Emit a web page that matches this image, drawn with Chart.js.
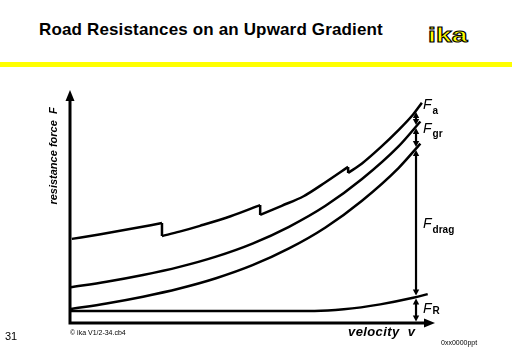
<!DOCTYPE html>
<html>
<head>
<meta charset="utf-8">
<script src="https://cdn.jsdelivr.net/npm/chart.js@4"></script>
<style>
  body { margin: 0; width: 512px; height: 354px; position: relative; overflow: hidden; background: #fff; font-family: 'Liberation Sans', Arial, sans-serif; }
  #chart { position: absolute; left: 0; top: 0; }
  .txt { position: absolute; white-space: nowrap; color: #000; line-height: 1; }
  #title { left: 39px; top: 21px; font-weight: bold; font-size: 17px; letter-spacing: 0.15px; }
  #logo { left: 428px; top: 24px; font-weight: bold; font-size: 21px; color: #ffff00; -webkit-text-stroke: 1px #000; transform: scaleX(1.35); transform-origin: left top; }
  #rule { position: absolute; left: 0; top: 62px; width: 512px; height: 5px; background: #ffff00; }
  #page { left: 5px; top: 331px; font-size: 11px; }
  #copy { left: 70px; top: 329px; font-size: 7px; }
  #file { left: 441px; top: 339px; font-size: 7px; }
</style>
</head>
<body>
<div id="title" class="txt">Road Resistances on an Upward Gradient</div>
<div id="logo" class="txt">ika</div>
<div id="rule"></div>
<canvas id="chart" width="512" height="354"></canvas>
<div id="page" class="txt">31</div>
<div id="copy" class="txt">© ika V1/2-34.cb4</div>
<div id="file" class="txt">0xx0000ppt</div>
<script>
/* Data (arbitrary units) */
const velocity = [0, 10, 20, 30, 40, 50, 60, 70, 80, 90, 96];
const dragPlusRolling = [6.0, 8.4, 11.3, 14.8, 19.2, 24.8, 32.0, 41.0, 52.5, 66.5, 77.0];
const withGradient = [15.3, 17.7, 20.6, 24.1, 28.5, 34.1, 41.3, 50.3, 61.8, 75.8, 86.5];
const rollingVelocity = [0, 20, 40, 60, 67, 75, 85, 94, 98];
const rollingForce = [5.2, 5.2, 5.2, 5.2, 5.2, 5.9, 8.0, 10.8, 12.4];
const gearVelocity = [
    [0.5, 8, 16, 25.2],
    [25.2, 30, 35.6, 44, 52.1],
    [52.1, 58, 64, 70, 76.2],
    [76.2, 80, 85, 90, 94, 96.4]
];
const gearForce = [
    [36.1, 38.0, 40.2, 42.9],
    [37.3, 39.2, 41.7, 45.8, 50.6],
    [46.4, 50.3, 54.4, 60.4, 67.0],
    [64.4, 68.5, 75.3, 82.8, 89.5, 94.5]
];

const toPoints = (xs, ys) => xs.map((v, i) => ({x: v, y: ys[i]}));

function interp(xs, ys, v) {
    for (let i = 1; i < xs.length; i++) {
        if (v <= xs[i]) {
            const t = (v - xs[i - 1]) / (xs[i] - xs[i - 1]);
            return ys[i - 1] + t * (ys[i] - ys[i - 1]);
        }
    }
    return ys[ys.length - 1];
}

const lineStyle = {
    borderColor: '#000',
    borderWidth: 2.5,
    pointRadius: 0,
    fill: false,
    cubicInterpolationMode: 'monotone'
};

const datasets = [
    {...lineStyle, label: 'rolling', data: toPoints(rollingVelocity, rollingForce)},
    {...lineStyle, label: 'drag', data: toPoints(velocity, dragPlusRolling)},
    {...lineStyle, label: 'gradient', data: toPoints(velocity, withGradient)}
];
gearVelocity.forEach((xs, g) => {
    datasets.push({...lineStyle, label: 'gear ' + (g + 1), data: toPoints(xs, gearForce[g])});
    if (g > 0) {
        // gear change: vertical step between consecutive gears
        const prev = gearVelocity[g - 1].length - 1;
        datasets.push({...lineStyle, cubicInterpolationMode: 'default', tension: 0, label: 'shift ' + g,
            data: [{x: gearVelocity[g - 1][prev], y: gearForce[g - 1][prev]}, {x: xs[0], y: gearForce[g][0]}]});
    }
});

function head(ctx, tx, ty, dx, dy, len, half) {
    ctx.beginPath();
    ctx.moveTo(tx, ty);
    ctx.lineTo(tx - dx * len - dy * half, ty - dy * len + dx * half);
    ctx.lineTo(tx - dx * len + dy * half, ty - dy * len - dx * half);
    ctx.closePath();
    ctx.fill();
}

function label(ctx, px, py, sub, subDy) {
    ctx.font = 'italic 14px "Liberation Sans", Arial';
    ctx.fillText('F', px, py);
    const w = ctx.measureText('F').width;
    ctx.font = 'bold 10px "Liberation Sans", Arial';
    ctx.fillText(sub, px + w + 1, py + subDy);
}

const annotate = {
    id: 'annotate',
    afterDatasetsDraw(chart) {
        const {ctx, scales: {x, y}} = chart;
        ctx.save();
        ctx.strokeStyle = '#000';
        ctx.fillStyle = '#000';

        // axes with arrows
        const x0 = x.getPixelForValue(0), y0 = y.getPixelForValue(0);
        const xEnd = x.getPixelForValue(100), yEnd = y.getPixelForValue(100);
        ctx.lineWidth = 3;
        ctx.beginPath();
        ctx.moveTo(x0, y0 + 1.5); ctx.lineTo(x0, yEnd + 8);
        ctx.moveTo(x0 - 1.5, y0); ctx.lineTo(xEnd - 8, y0);
        ctx.stroke();
        head(ctx, x0, yEnd, 0, -1, 11, 4.5);
        head(ctx, xEnd, y0, 1, 0, 11, 4.5);

        // double arrows between the curves
        const av = 94.8;
        const ax = x.getPixelForValue(av);
        const levels = [
            interp(gearVelocity[3], gearForce[3], av),
            interp(velocity, withGradient, av),
            interp(velocity, dragPlusRolling, av),
            interp(rollingVelocity, rollingForce, av),
            0
        ].map(v => y.getPixelForValue(v));
        ctx.lineWidth = 2.2;
        for (let i = 0; i < 4; i++) {
            const top = levels[i] + 1.5, bot = levels[i + 1] - 1.5;
            ctx.beginPath();
            ctx.moveTo(ax, top + 5); ctx.lineTo(ax, bot - 5);
            ctx.stroke();
            head(ctx, ax, top, 0, -1, 6, 3.2);
            head(ctx, ax, bot, 0, 1, 6, 3.2);
        }

        // labels
        const lx = ax + 7;
        label(ctx, lx, levels[0] - 2, 'a', 5);
        label(ctx, lx, levels[1] + 7, 'gr', 4);
        label(ctx, lx, (levels[2] + levels[3]) / 2 + 5, 'drag', 5);
        label(ctx, lx, (levels[3] + levels[4]) / 2 + 3, 'R', 1);

        // axis titles
        ctx.font = 'italic bold 11px "Liberation Sans", Arial';
        ctx.textAlign = 'center';
        ctx.save();
        ctx.translate(57, 156);
        ctx.rotate(-Math.PI / 2);
        ctx.fillText('resistance force  F', 0, 0);
        ctx.restore();
        ctx.font = 'italic bold 13px "Liberation Sans", Arial';
        ctx.letterSpacing = '0.4px';
        ctx.textAlign = 'left';
        ctx.fillText('velocity  v', 348, 336);
        ctx.restore();
    }
};

new Chart('chart', {
    type: 'line',
    data: {datasets: datasets},
    plugins: [annotate],
    options: {
        responsive: false,
        animation: false,
        layout: {padding: {left: 70, right: 77, top: 90, bottom: 31}},
        scales: {
            x: {type: 'linear', min: 0, max: 100, display: false},
            y: {min: 0, max: 100, display: false}
        },
        plugins: {
            legend: {display: false},
            tooltip: {enabled: false}
        }
    }
});
</script>
</body>
</html>
